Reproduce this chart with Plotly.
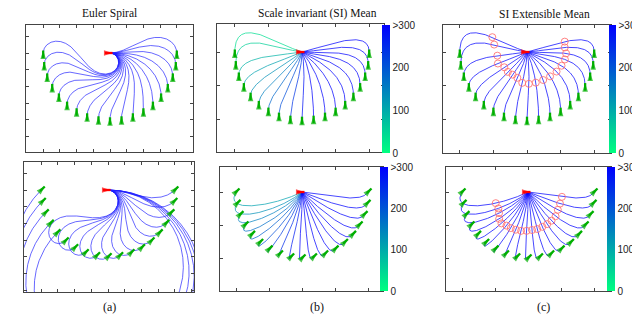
import numpy as np
import plotly.graph_objects as go

# ----------------------------- data -----------------------------
start_x, start_y, start_heading = 0.0, 0.0, 0.0

goal_x = [-4.0, -3.94, -3.76, -3.46, -3.06, -2.57, -2.0, -1.37, -0.69, 0.0,
          0.69, 1.37, 2.0, 2.57, 3.06, 3.46, 3.76, 3.94, 4.0]
goal_y = [0.0, -0.69, -1.37, -2.0, -2.57, -3.06, -3.46, -3.76, -3.94, -4.0,
          -3.94, -3.76, -3.46, -3.06, -2.57, -2.0, -1.37, -0.69, 0.0]

end_heading_top = -90.0       # tangent of the curves at the goals (top row)
arrow_heading_top = 90.0      # drawn goal arrows (top row)
end_heading_bottom = 45.0     # Euler spiral end tangent (bottom row)
end_heading_bottom_si = 60.0  # SI curves end tangent (bottom row)
arrow_heading_bottom = 45.0

# SI curves: leaving direction at the start (deg) and tangent length at the goal
si_start_dir_top = [165, 175, 190, 205, 218, 232, 245, 258, 270, 282,
                    295, 310, 322, 332, 340, 348, 355, 3, 12]
si_end_len_top = [2.4, 2.2, 1.2, 0.9, 0.8, 0.8, 0.9, 1.0, 1.0, 1.0,
                  1.1, 1.3, 1.5, 1.7, 1.8, 1.8, 1.7, 1.6, 1.5]
si_start_dir_bottom = [207, 221, 229, 237, 243, 249, 254, 260, 266, 272,
                       279, 285, 292, 299, 306, 315, 327, 339, 353]
si_end_len_bottom = [1.6, 1.5, 1.4, 1.3, 1.2, 1.1, 1.0, 0.9, 0.9, 0.8,
                     0.8, 0.8, 0.8, 0.8, 0.8, 0.8, 0.8, 0.8, 0.8]

si_mean_top = [40, 55, 90, 110, 130, 150, 180, 210, 240, 280, 300, 300, 300,
               300, 300, 300, 300, 300, 300]
si_mean_bottom = [110, 130, 150, 170, 190, 210, 230, 250, 270, 300, 300, 300,
                  300, 300, 300, 300, 300, 300, 300]
si_ext_top = [300, 300, 300, 300, 300, 300, 300, 300, 300, 300, 300, 300, 300,
              300, 300, 300, 300, 300, 300]
si_ext_bottom = [300, 300, 300, 300, 300, 300, 300, 300, 300, 300, 300, 300,
                 300, 300, 300, 300, 300, 300, 300]

circle_top_x = [-2.02, -1.96, -1.73, -1.67, -1.25, -1.01, -0.65, -0.18, 0.0, 0.36,
                0.71, 1.13, 1.49, 1.85, 2.08, 2.26, 2.32, 2.26, 2.26]
circle_top_y = [1.01, 0.42, -0.48, -0.83, -1.07, -1.31, -1.49, -1.73, -1.9, -1.9,
                -1.79, -1.61, -1.37, -1.07, -0.77, -0.42, -0.12, 0.18, 0.54]
circle_bot_x = [-1.88, -1.64, -1.52, -1.39, -1.21, -0.91, -0.67, -0.42, -0.18, 0.06,
                0.36, 0.61, 0.85, 1.09, 1.33, 1.58, 1.76, 1.94, 2.06]
circle_bot_y = [-0.97, -1.45, -1.76, -2.18, -2.36, -2.36, -2.42, -2.42, -2.42, -2.36,
                -2.3, -2.24, -2.12, -2.0, -1.82, -1.58, -1.15, -0.73, -0.24]

cbar_vals = [0, 100, 200, 300]
cbar_text = ['0', '100', '200', '>300']
panel_titles = ['Euler Spiral', 'Scale invariant (SI) Mean', 'SI Extensible Mean']
sub_labels = ['(a)', '(b)', '(c)']

# ----------------------------- geometry helpers -----------------------------
W, H = 640, 323


def norm_angle(a):
    a = (a + np.pi) % (2 * np.pi) - np.pi
    if a <= -np.pi + 1e-12:
        a += 2 * np.pi
    return a


def clothoid(x1, y1, th1_deg):
    """G1 Hermite interpolation with a single Euler spiral (root with smallest |A|)."""
    x0, y0, t0 = start_x, start_y, np.radians(start_heading)
    t1 = np.radians(th1_deg)
    dx, dy = x1 - x0, y1 - y0
    r = np.hypot(dx, dy)
    phi = np.arctan2(dy, dx)
    p0 = norm_angle(t0 - phi)
    p1 = norm_angle(t1 - phi)
    d = p1 - p0
    tc = np.linspace(0, 1, 801)
    Ag = np.linspace(-60, 60, 2401)
    th = Ag[:, None] * (tc * tc - tc)[None, :] + (d * tc + p0)[None, :]
    g = np.trapezoid(np.sin(th), tc, axis=1)
    t = np.linspace(0, 1, 4001)
    best = None
    for k in np.nonzero(np.sign(g[:-1]) != np.sign(g[1:]))[0]:
        lo, hi = Ag[k], Ag[k + 1]
        glo = g[k]
        for _ in range(60):
            mid = 0.5 * (lo + hi)
            gm = np.trapezoid(np.sin(mid * (t * t - t) + d * t + p0), t)
            if np.sign(gm) == np.sign(glo):
                lo, glo = mid, gm
            else:
                hi = mid
        A = 0.5 * (lo + hi)
        X = np.trapezoid(np.cos(A * (t * t - t) + d * t + p0), t)
        if X > 1e-6:
            if best is None or abs(A) < abs(best[0]):
                best = (A, r / X)
    A, L = best
    ang = phi + A * (t * t - t) + d * t + p0
    cx = np.concatenate([[0], np.cumsum(0.5 * (np.cos(ang[1:]) + np.cos(ang[:-1])) * np.diff(t))])
    cy = np.concatenate([[0], np.cumsum(0.5 * (np.sin(ang[1:]) + np.sin(ang[:-1])) * np.diff(t))])
    return x0 + L * cx, y0 + L * cy


def bezier(gx, gy, start_deg, a, end_deg, b, n=300):
    s = np.array([np.cos(np.radians(start_deg)), np.sin(np.radians(start_deg))])
    u = np.array([np.cos(np.radians(end_deg)), np.sin(np.radians(end_deg))])
    P0 = np.array([start_x, start_y])
    P3 = np.array([gx, gy])
    P1 = P0 + a * s
    P2 = P3 - b * u
    t = np.linspace(0, 1, n)[:, None]
    P = (1 - t) ** 3 * P0 + 3 * (1 - t) ** 2 * t * P1 + 3 * (1 - t) * t ** 2 * P2 + t ** 3 * P3
    return P[:, 0], P[:, 1]


def si_curves(row):
    if row == 'top':
        it = zip(goal_x, goal_y, si_start_dir_top, si_end_len_top)
        return [bezier(gx, gy, sd, 1.3, end_heading_top, b) for gx, gy, sd, b in it]
    it = zip(goal_x, goal_y, si_start_dir_bottom, si_end_len_bottom)
    return [bezier(gx, gy, sd, 1.8, end_heading_bottom_si, b) for gx, gy, sd, b in it]


def color_for(v, alpha=0.8):
    f = min(max(v / 300.0, 0.0), 1.0)
    return 'rgba(0,%d,%d,%.2f)' % (round(255 * (1 - f)), round(128 + 127 * f), alpha)


colorscale = [[0, 'rgb(0,255,128)'], [1, 'rgb(0,0,255)']]

panels = [
    dict(box=(18, 185, 17, 144), origin=(102, 45), scale=16.7, dtick=1),
    dict(box=(209, 376, 16, 144), origin=(294, 44), scale=16.8, dtick=2),
    dict(box=(435, 603, 17, 145), origin=(519, 44), scale=16.8, dtick=2),
    dict(box=(16, 186, 154, 284), origin=(100, 182), scale=16.7, dtick=1),
    dict(box=(212, 375, 159, 283), origin=(294, 184), scale=16.5, dtick=2),
    dict(box=(438, 603, 159, 283), origin=(520, 184), scale=16.5, dtick=2),
]

fig = go.Figure()


def axn(i):
    return ('x' if i == 1 else 'x%d' % i), ('y' if i == 1 else 'y%d' % i)


def add_curve(i, xs, ys, color, width=0.9):
    xa, ya = axn(i)
    fig.add_trace(go.Scatter(x=xs, y=ys, mode='lines', xaxis=xa, yaxis=ya,
                             line=dict(color=color, width=width), hoverinfo='skip',
                             showlegend=False))


def add_arrows(i, xs, ys, deg, color, back=0.3, fwd=0.15, width=2.3, size=9):
    xa, ya = axn(i)
    ux, uy = np.cos(np.radians(deg)), np.sin(np.radians(deg))
    px, py, sz = [], [], []
    for gx, gy in zip(xs, ys):
        px += [gx - back * ux, gx + fwd * ux, None]
        py += [gy - back * uy, gy + fwd * uy, None]
        sz += [0, size, 0]
    fig.add_trace(go.Scatter(x=px, y=py, mode='lines+markers', xaxis=xa, yaxis=ya,
                             line=dict(color=color, width=width),
                             marker=dict(symbol='arrow', size=sz, color=color,
                                         angleref='previous', line=dict(width=0)),
                             hoverinfo='skip', showlegend=False))


def add_circles(i, cxs, cys, curves):
    xa, ya = axn(i)
    ox, oy = [], []
    for (cx, cy), (xs, ys) in zip(zip(cxs, cys), curves):
        k = np.argmin((np.asarray(xs) - cx) ** 2 + (np.asarray(ys) - cy) ** 2)
        ox.append(xs[k])
        oy.append(ys[k])
    fig.add_trace(go.Scatter(x=ox, y=oy, mode='markers', xaxis=xa, yaxis=ya,
                             marker=dict(symbol='circle-open', size=7,
                                         color='rgba(255,110,110,0.85)', line=dict(width=1)),
                             hoverinfo='skip', showlegend=False))


def add_colorbar(i, box):
    xa, ya = axn(i)
    L, R, T, B = box
    fig.add_trace(go.Scatter(x=[start_x], y=[start_y], mode='markers', xaxis=xa, yaxis=ya,
                             marker=dict(size=0.1, color=[0], colorscale=colorscale, cmin=0, cmax=300,
                                         showscale=True,
                                         colorbar=dict(x=(L - 7) / W, xanchor='left', y=1 - T / H,
                                                       yanchor='top',
                                                       len=(B - T) / H, lenmode='fraction', thickness=R - L,
                                                       outlinewidth=0, xpad=0, ypad=0, ticks='',
                                                       tickvals=cbar_vals, ticktext=cbar_text,
                                                       tickfont=dict(size=10, family='Liberation Sans',
                                                                     color='#222'))),
                             hoverinfo='skip', showlegend=False))


blue = 'rgba(30,30,255,0.75)'

# (a) Euler spiral, top and bottom
for gx, gy in zip(goal_x, goal_y):
    xs, ys = clothoid(gx, gy, end_heading_top)
    add_curve(1, xs, ys, blue)
for gx, gy in zip(goal_x, goal_y):
    xs, ys = clothoid(gx, gy, end_heading_bottom)
    add_curve(4, xs, ys, blue)

curves_top = si_curves('top')
curves_bot = si_curves('bottom')

# (b) SI mean
for (xs, ys), v in zip(curves_top, si_mean_top):
    add_curve(2, xs, ys, color_for(v))
for (xs, ys), v in zip(curves_bot, si_mean_bottom):
    add_curve(5, xs, ys, color_for(v))

# (c) SI extensible mean
for (xs, ys), v in zip(curves_top, si_ext_top):
    add_curve(3, xs, ys, color_for(v))
for (xs, ys), v in zip(curves_bot, si_ext_bottom):
    add_curve(6, xs, ys, color_for(v))
add_circles(3, circle_top_x, circle_top_y, curves_top)
add_circles(6, circle_bot_x, circle_bot_y, curves_bot)

green = 'rgb(0,175,0)'
for i in (1, 2, 3):
    add_arrows(i, goal_x, goal_y, arrow_heading_top, green)
    add_arrows(i, [start_x], [start_y], start_heading, 'rgb(255,0,0)')
for i in (4, 5, 6):
    add_arrows(i, goal_x, goal_y, arrow_heading_bottom, green, back=0.1, fwd=0.3)
    add_arrows(i, [start_x], [start_y], start_heading, 'rgb(255,0,0)')

add_colorbar(2, (381, 389, 17, 145))
add_colorbar(5, (379, 387, 159, 283))
add_colorbar(3, (608, 615, 17, 145))
add_colorbar(6, (606, 614, 159, 283))

layout = dict(width=W, height=H, margin=dict(l=0, r=0, t=0, b=0),
              paper_bgcolor='white', plot_bgcolor='white', showlegend=False)
for n, p in enumerate(panels, start=1):
    L, R, T, B = p['box']
    ox, oy = p['origin']
    sc = p['scale']
    sfx = '' if n == 1 else str(n)
    common = dict(showline=True, linecolor='#444', linewidth=1.2, mirror='ticks', ticks='inside',
                  ticklen=3, tickcolor='#444', showticklabels=False, showgrid=False, zeroline=False,
                  tick0=0, dtick=p['dtick'], fixedrange=True)
    layout['xaxis' + sfx] = dict(domain=[L / W, R / W], range=[(L - ox) / sc, (R - ox) / sc],
                                 anchor='y' + sfx, **common)
    layout['yaxis' + sfx] = dict(domain=[1 - B / H, 1 - T / H], range=[(oy - B) / sc, (oy - T) / sc],
                                 anchor='x' + sfx, **common)

ann = []
for cx, txt in zip([101, 309, 536], panel_titles):
    ann.append(dict(x=cx / W, y=1 - 6 / H, xref='paper', yref='paper', text=txt, showarrow=False,
                    xanchor='center', yanchor='middle',
                    font=dict(family='Liberation Serif', size=11.5, color='#111')))
for cx, txt in zip([101, 309, 535], sub_labels):
    ann.append(dict(x=cx / W, y=1 - 299 / H, xref='paper', yref='paper', text=txt, showarrow=False,
                    xanchor='center', yanchor='middle',
                    font=dict(family='Liberation Serif', size=12, color='#111')))
layout['annotations'] = ann
fig.update_layout(**layout)
fig.write_html('out.html')
